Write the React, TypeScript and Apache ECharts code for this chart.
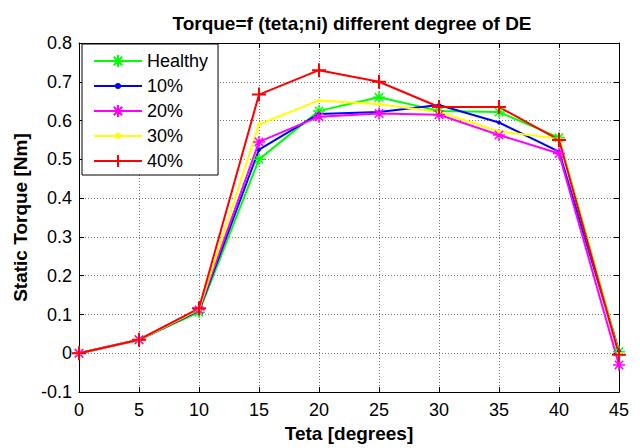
import React, { useEffect, useRef } from "react";
import * as echarts from "echarts";

// Rotor angle in degrees
const teta = [0, 5, 10, 15, 20, 25, 30, 35, 40, 45];

// Static torque [Nm] for each degree of DE
const healthy = [0, 0.035, 0.106, 0.5, 0.625, 0.66, 0.625, 0.622, 0.556, 0.004];
const de10 = [0, 0.035, 0.11, 0.525, 0.617, 0.622, 0.64, 0.595, 0.52, 0.005];
const de20 = [0, 0.035, 0.112, 0.545, 0.61, 0.618, 0.615, 0.563, 0.515, -0.03];
const de30 = [0, 0.035, 0.113, 0.59, 0.652, 0.642, 0.622, 0.572, 0.553, 0];
const de40 = [0, 0.035, 0.116, 0.667, 0.73, 0.7, 0.635, 0.635, 0.55, -0.004];

const seriesNames = ["Healthy", "10%", "20%", "30%", "40%"];
const colors = ["#00ff00", "#0000ff", "#ff00ff", "#ffff00", "#ff0000"];

// Plot markers
const asterisk = "path://M5,0L5,10M0,5L10,5M1.5,1.5L8.5,8.5M1.5,8.5L8.5,1.5";
const plus = "path://M5,0L5,10M0,5L10,5";

// Legend icons: a 48x12 line sample with the series marker in its middle
const iconAsterisk =
  "path://M0,6L48,6M24,0L24,12M18,6L30,6M19.8,1.8L28.2,10.2M19.8,10.2L28.2,1.8";
const iconDot =
  "path://M0,6L48,6M24,0L24,0M24,12L24,12M22,6A2,2 0 1 1 26,6A2,2 0 1 1 22,6Z";
const iconPlus = "path://M0,6L48,6M24,0L24,12M18,6L30,6";
const legendIcons = [iconAsterisk, iconDot, iconAsterisk, iconDot, iconPlus];

const FONT = "Liberation Sans, Arial, sans-serif";

export default function App() {
  const ref = useRef<HTMLDivElement>(null);

  useEffect(() => {
    if (!ref.current) return;
    document.body.style.margin = "0";
    const chart = echarts.init(ref.current, undefined, { renderer: "svg" });

    const mk = (
      name: string,
      data: number[],
      color: string,
      symbol: string,
      size: number,
      bw: number
    ) => ({
      name,
      type: "line",
      xAxisIndex: 0,
      yAxisIndex: 0,
      data: teta.map((t, i) => [t, data[i]]),
      symbol,
      symbolSize: size,
      showAllSymbol: true,
      lineStyle: { color, width: 2 },
      itemStyle: { color, borderColor: color, borderWidth: bw },
      emphasis: { disabled: true },
    });

    const axisCommon = {
      axisLine: { show: true, onZero: false, lineStyle: { color: "#000", width: 1 } },
      axisTick: { show: true, inside: true, length: 5, lineStyle: { color: "#000" } },
    };

    chart.setOption({
      animation: false,
      backgroundColor: "#fff",
      title: {
        text: "Torque=f (teta;ni) different degree of DE",
        left: 347,
        textAlign: "center",
        top: 9,
        textStyle: { fontFamily: FONT, fontSize: 19, fontWeight: "bold", color: "#000" },
      },
      legend: {
        orient: "vertical",
        left: 82,
        top: 44,
        data: seriesNames.map((name, i) => ({
          name,
          icon: legendIcons[i],
          itemStyle: { color: colors[i], borderColor: colors[i], borderWidth: 2 },
        })),
        itemWidth: 48,
        itemHeight: 12,
        itemGap: 5,
        symbolKeepAspect: false,
        padding: [7, 10, 4, 11],
        backgroundColor: "#fff",
        borderColor: "#000",
        borderWidth: 1,
        borderRadius: 0,
        textStyle: { fontFamily: FONT, fontSize: 18, color: "#000", lineHeight: 20 },
      },
      grid: { left: 79, right: 21, top: 43, bottom: 50, containLabel: false },
      xAxis: [
        {
          type: "value",
          min: 0,
          max: 45,
          interval: 5,
          position: "bottom",
          ...axisCommon,
          axisLabel: { fontFamily: FONT, fontSize: 18, color: "#000", margin: 9 },
          splitLine: { show: true, lineStyle: { color: "#777", type: [1, 2], width: 1 } },
          name: "Teta [degrees]",
          nameLocation: "middle",
          nameGap: 30,
          nameTextStyle: { fontFamily: FONT, fontSize: 19, fontWeight: "bold", color: "#000" },
        },
        {
          type: "value",
          min: 0,
          max: 45,
          interval: 5,
          position: "top",
          ...axisCommon,
          axisLabel: { show: false },
          splitLine: { show: false },
        },
      ],
      yAxis: [
        {
          type: "value",
          min: -0.1,
          max: 0.8,
          interval: 0.1,
          position: "left",
          ...axisCommon,
          axisLabel: {
            fontFamily: FONT,
            fontSize: 18,
            color: "#000",
            margin: 7,
            formatter: (v: number) => {
              const r = Math.round(v * 10) / 10;
              return r === 0 ? "0" : r.toFixed(1);
            },
          },
          splitLine: { show: true, lineStyle: { color: "#777", type: [1, 2], width: 1 } },
          name: "Static Torque [Nm]",
          nameLocation: "middle",
          nameGap: 45,
          nameTextStyle: { fontFamily: FONT, fontSize: 19, fontWeight: "bold", color: "#000" },
        },
        {
          type: "value",
          min: -0.1,
          max: 0.8,
          interval: 0.1,
          position: "right",
          ...axisCommon,
          axisLabel: { show: false },
          splitLine: { show: false },
        },
      ],
      series: [
        mk("Healthy", healthy, colors[0], asterisk, 12, 1.5),
        mk("10%", de10, colors[1], "circle", 4, 0),
        mk("20%", de20, colors[2], asterisk, 12, 1.5),
        mk("30%", de30, colors[3], "circle", 4, 0),
        mk("40%", de40, colors[4], plus, 14, 2),
      ],
    });

    return () => chart.dispose();
  }, []);

  return <div ref={ref} style={{ width: 640, height: 448 }} />;
}
